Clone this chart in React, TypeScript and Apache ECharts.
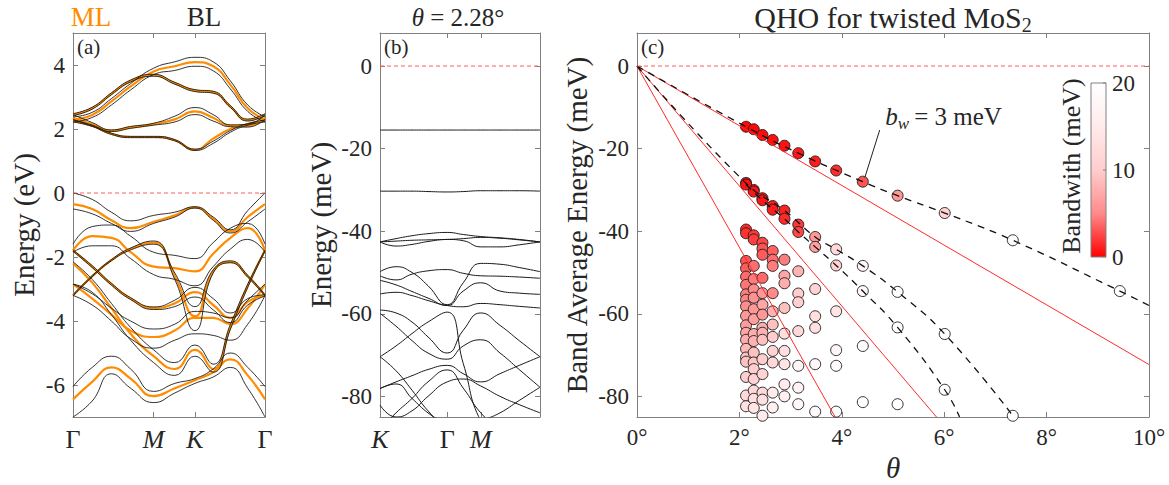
import React, { useEffect, useRef } from 'react';
import * as echarts from 'echarts';

const FONT = '"Liberation Serif", "Times New Roman", serif';
const TXT = '#262626';
const FRAME = '#808080';
const ORANGE = '#ff8c00';
const BLACK = '#1a1a1a';
const RED = '#ff2b2b';

// ---------- panel (a): ML / BL bands along Γ-M-K-Γ ----------
const tA = [0, 0.1, 0.2, 0.3, 0.42, 0.53, 0.635, 0.73, 0.82, 0.91, 1];
const kTicksA = [0, 0.42, 0.635, 1];
const kLabelsA = ['Γ', 'M', 'K', 'Γ'];
const yTicksA = [-6, -4, -2, 0, 2, 4];

const mlC1 = [2.25, 2.1, 1.85, 1.75, 1.75, 1.65, 1.35, 1.7, 2.0, 2.15, 2.25];
const mlC2 = [2.35, 2.15, 1.95, 2.05, 2.15, 2.3, 2.55, 2.35, 2.1, 2.1, 2.35];
const mlC3 = [2.45, 2.65, 3.1, 3.5, 3.68, 3.43, 3.2, 3.15, 2.7, 2.28, 2.45];
const mlC4 = [2.3, 2.44, 2.86, 3.33, 3.8, 3.96, 4.09, 3.96, 3.38, 2.65, 2.3];
const mlV1 = [-0.35, -0.5, -0.85, -1.1, -0.9, -0.7, -0.45, -0.8, -1.2, -0.75, -0.35];
const mlV2 = [-1.8, -1.35, -1.4, -1.85, -2.3, -2.35, -2.45, -1.9, -1.4, -1.1, -1.8];
const mlV3 = [-3.2, -2.6, -2.1, -1.75, -1.55, -2.6, -3.85, -2.45, -2.15, -2.6, -3.2];
const mlV4 = [-1.8, -2.3, -2.85, -3.3, -3.6, -3.45, -3.1, -3.5, -3.9, -3.4, -3.2];
const mlV5 = [-2.85, -3.3, -3.8, -4.3, -4.5, -4.3, -3.9, -3.9, -4.1, -3.6, -2.85];
const mlV6 = [-2.2, -2.8, -3.6, -4.4, -5.1, -5.5, -4.9, -5.5, -4.2, -2.9, -1.8];
const mlV7 = [-6.45, -5.9, -5.45, -5.8, -6.35, -6.1, -5.85, -5.6, -5.2, -5.7, -6.45];

const blC1a = [2.28, 2.12, 1.87, 1.77, 1.77, 1.67, 1.37, 1.62, 1.95, 2.17, 2.28];
const blC1b = [2.22, 2.08, 1.83, 1.73, 1.73, 1.63, 1.33, 1.55, 1.9, 2.12, 2.22];
const blC2a = [2.45, 2.2, 1.97, 2.08, 2.18, 2.4, 2.67, 2.45, 2.13, 2.15, 2.45];
const blC2b = [2.3, 2.1, 1.92, 2.02, 2.12, 2.22, 2.45, 2.25, 2.07, 2.06, 2.3];
const blC3a = [2.48, 2.68, 3.13, 3.53, 3.71, 3.46, 3.23, 3.18, 2.73, 2.31, 2.48];
const blC3b = [2.42, 2.62, 3.07, 3.47, 3.65, 3.4, 3.17, 3.12, 2.67, 2.25, 2.42];
const blC4a = [2.38, 2.52, 2.95, 3.42, 3.9, 4.1, 4.24, 4.1, 3.5, 2.75, 2.38];
const blC4b = [2.22, 2.36, 2.75, 3.22, 3.7, 3.83, 3.96, 3.82, 3.25, 2.55, 2.22];
const blV1a = [0, -0.2, -0.6, -0.87, -0.7, -0.6, -0.43, -0.75, -1.15, -0.55, 0];
const blV1b = [-0.5, -0.65, -0.95, -1.2, -0.95, -0.75, -0.47, -0.85, -1.25, -0.9, -0.5];
const blV2a = [-1.6, -1.05, -1.0, -1.35, -1.85, -1.95, -2.05, -1.55, -1.1, -0.95, -1.6];
const blV2b = [-1.85, -1.65, -1.65, -2.05, -2.55, -2.7, -2.9, -2.3, -1.75, -1.45, -1.85];
const blV3a = [-3.18, -2.58, -2.08, -1.72, -1.5, -2.5, -3.55, -2.4, -2.12, -2.57, -3.18];
const blV3b = [-3.22, -2.62, -2.12, -1.78, -1.6, -2.7, -4.3, -2.5, -2.18, -2.63, -3.22];
const blV4a = [-1.78, -2.27, -2.82, -3.27, -3.56, -3.35, -2.95, -3.3, -3.75, -3.3, -3.18];
const blV4b = [-1.82, -2.33, -2.88, -3.33, -3.64, -3.55, -3.25, -3.65, -4.05, -3.5, -3.22];
const blV5a = [-2.85, -3.15, -3.6, -4.0, -4.25, -4.1, -3.7, -3.75, -3.9, -3.35, -2.85];
const blV5b = [-3.2, -3.5, -4.0, -4.55, -4.85, -4.6, -4.4, -4.45, -4.6, -4.1, -3.2];
const blV6a = [-2.15, -2.7, -3.45, -4.2, -4.9, -5.3, -4.75, -5.35, -4.1, -2.85, -1.78];
const blV6b = [-2.85, -3.1, -3.8, -4.6, -5.3, -5.7, -5.1, -5.6, -4.25, -2.95, -1.82];
const blV7a = [-6.05, -5.45, -5.1, -5.5, -6.2, -5.95, -5.8, -5.5, -5.0, -5.45, -6.05];
const blV7b = [-7.0, -6.5, -5.65, -6.1, -6.55, -6.25, -5.95, -5.75, -5.45, -6.1, -7.0];

const mlBands = [mlC1, mlC2, mlC3, mlC4, mlV1, mlV2, mlV3, mlV4, mlV5, mlV6, mlV7];
const blBands = [blC1a, blC1b, blC2a, blC2b, blC3a, blC3b, blC4a, blC4b, blV1a, blV1b, blV2a, blV2b,
  blV3a, blV3b, blV4a, blV4b, blV5a, blV5b, blV6a, blV6b, blV7a, blV7b];

// ---------- panel (b): moiré bands, θ = 2.28° ----------
const tB = [0, 0.1, 0.2, 0.3, 0.42, 0.52, 0.63, 0.75, 0.87, 1];
const kTicksB = [0, 0.42, 0.63];
const kLabelsB = ['K', 'Γ', 'M'];
const yTicksBC = [-80, -60, -40, -20, 0];

const b01 = [-15.5, -15.5, -15.5, -15.5, -15.5, -15.5, -15.5, -15.5, -15.5, -15.5];
const b02 = [-30.3, -30.3, -30.3, -30.4, -30.5, -30.4, -30.2, -30.2, -30.2, -30.3];
const b03 = [-42.6, -41.8, -41.1, -40.6, -40.3, -40.8, -41.3, -41.6, -42.0, -42.6];
const b04 = [-42.6, -43.6, -43.2, -42.5, -42.0, -42.3, -43.8, -43.8, -43.3, -42.6];
const b05 = [-42.6, -42.4, -42.2, -42.1, -42.0, -41.8, -41.5, -41.7, -42.1, -42.6];
const b06 = [-49.8, -48.6, -50.0, -53.2, -57.8, -52.5, -47.8, -48.0, -48.8, -49.8];
const b07 = [-50.8, -51.8, -50.4, -49.6, -49.3, -50.2, -50.8, -50.9, -51.1, -51.4];
const b08 = [-51.9, -53.0, -54.6, -56.2, -58.0, -54.5, -52.5, -54.5, -55.0, -55.3];
const b09 = [-55.2, -54.8, -55.6, -56.8, -58.0, -58.3, -57.5, -57.8, -58.2, -58.6];
const b10 = [-59.1, -59.8, -62.0, -65.6, -69.5, -64.0, -59.8, -62.8, -66.5, -70.4];
const b11 = [-70.4, -67.8, -64.8, -62.0, -59.6, -72.0, -86.0, -90.0, -90.0, -90.0];
const b12 = [-59.9, -63.0, -66.5, -69.5, -71.0, -67.8, -66.3, -69.5, -73.5, -77.8];
const b13 = [-88.0, -84.0, -80.5, -76.5, -73.6, -78.0, -84.0, -88.0, -90.0, -90.0];
const b14 = [-78.1, -76.5, -75.0, -73.5, -72.5, -74.5, -76.5, -74.5, -72.5, -70.4];
const b15 = [-70.4, -73.8, -78.5, -83.5, -88.0, -90.0, -90.0, -90.0, -90.0, -90.0];
const b16 = [-78.1, -77.0, -80.5, -84.0, -87.0, -90.0, -90.0, -90.0, -90.0, -90.0];
const b17 = [-82.1, -85.0, -83.5, -80.0, -76.5, -75.8, -77.5, -80.0, -82.0, -84.0];
const b18 = [-90.0, -90.0, -90.0, -90.0, -90.0, -88.0, -86.0, -84.0, -81.0, -77.8];
const bBands = [b01, b02, b03, b04, b05, b06, b07, b08, b09, b10, b11, b12, b13, b14, b15, b16, b17, b18];

// ---------- panel (c): QHO for twisted MoS2 ----------
const xTicksC = [0, 2, 4, 6, 8, 10];
const thetaCols = [2.13, 2.28, 2.45, 2.65, 2.88, 3.15, 3.48, 3.89, 4.41, 5.09, 6.01, 7.34, 9.43];
const lvl0E = [-14.7, -15.3, -16.7, -17.9, -19.3, -21.1, -23.1, -25.3, -28.0, -31.4, -35.6, -42.2, -54.5];
const lvl0W = [0.3, 0.3, 0.4, 0.5, 0.6, 0.8, 1.0, 1.6, 3.0, 6.0, 11, 19, 24];
const lvl1aE = [-28.3, -30.0, -32.0, -33.9, -35.0, -38.4, -41.4, -44.4, -48.4, -54.7, -64.9, -84.7];
const lvl1aW = [0.5, 0.6, 0.7, 0.9, 1.2, 2.0, 6.0, 12, 17, 20, 22, 24];
const lvl1bE = [-28.7, -30.4, -32.5, -34.8, -37.0, -40.2, -43.8, -48.3, -54.5, -63.3, -78.4];
const lvl1bW = [0.6, 0.7, 0.8, 1.0, 1.5, 2.5, 6.5, 11, 18, 20, 22];

const c213E = [-39.6, -40.5, -47.2, -49.0, -51.0, -53.0, -55.3, -56.6, -58.2, -60.5, -62.8, -64.6, -66.3, -68.5, -70.6, -71.6, -75.3, -79.8, -82.4];
const c213W = [1.5, 1.8, 3.0, 3.3, 3.8, 4.2, 4.5, 4.8, 5.2, 6.0, 6.3, 7.0, 7.5, 8.5, 9.0, 9.2, 10, 12, 13];
const c228E = [-41.0, -42.0, -48.4, -51.6, -54.1, -56.1, -58.9, -61.3, -64.9, -66.6, -69.4, -71.8, -73.4, -75.8, -78.6, -80.6, -82.8];
const c228W = [2.0, 2.2, 4.0, 4.5, 5.0, 5.5, 6.0, 6.5, 7.5, 8.0, 9.0, 9.5, 10, 11, 12, 13, 14];
const c245E = [-42.8, -44.2, -45.7, -51.3, -55.0, -57.8, -60.2, -63.4, -64.6, -66.3, -71.0, -74.6, -79.1, -80.8, -84.7];
const c245W = [2.5, 3.0, 3.3, 3.8, 6.0, 7.0, 6.0, 7.5, 8.0, 9.0, 10, 11, 12, 13, 15];
const c265E = [-44.8, -46.9, -48.4, -55.0, -59.4, -62.6, -65.6, -69.0, -71.8, -79.1, -82.7];
const c265W = [3.5, 4.0, 4.5, 5.0, 8.0, 9.0, 10, 11, 12, 15, 16];
const c288E = [-46.9, -50.8, -52.6, -58.6, -64.8, -69.0, -72.2, -77.1, -80.0];
const c288W = [4.5, 7.0, 7.5, 9.0, 13, 13, 14, 15, 16];
const c315E = [-49.7, -55.1, -57.2, -64.2, -72.6, -77.9, -81.9];
const c315W = [8.0, 10, 10.5, 12, 18, 17, 18];
const c348E = [-54.0, -60.6, -63.4, -72.2, -83.7];
const c348W = [11, 13, 13, 18, 19];
const c389E = [-59.4, -68.8, -72.6, -83.7];
const c389W = [14, 18, 19, 20];
const c441E = [-67.8, -81.4];
const c441W = [19, 20];
const c509E = [-81.9];
const c509W = [20];
const highCols = [
  [2.13, c213E, c213W], [2.28, c228E, c228W], [2.45, c245E, c245W], [2.65, c265E, c265W],
  [2.88, c288E, c288W], [3.15, c315E, c315W], [3.48, c348E, c348W], [3.89, c389E, c389W],
  [4.41, c441E, c441W], [5.09, c509E, c509W],
] as [number, number[], number[]][];

const d1T = [0, 2.13, 3.15, 4.41, 5.09, 6.01, 7.34, 9.43, 10];
const d1E = [0, -14.7, -21.1, -28.0, -31.4, -35.6, -42.2, -54.5, -58.0];
const d2T = [0, 2.13, 2.88, 3.48, 3.89, 4.41, 5.09, 6.01, 7.34];
const d2E = [0, -28.4, -35.0, -41.4, -44.4, -48.4, -54.7, -64.9, -84.7];
const d3T = [2.13, 2.45, 2.88, 3.15, 3.48, 3.89, 4.41, 5.09, 6.01, 6.3];
const d3E = [-28.7, -32.5, -37.0, -40.2, -43.8, -48.3, -54.5, -63.3, -78.4, -85.0];
const redEndT = [10, 5.85, 3.87];
const redEndE = [-72.3, -85, -85];

const cmapColors = ['#ff0000', '#ff8a8a', '#ffcdcd', '#ffebeb', '#ffffff'];
const cbTicks = [0, 10, 20];

// ---------- helpers ----------
const zip = (xs: number[], ys: number[]) => xs.map((x, i) => [x, ys[i]]);

function line(xs: number[], ys: number[], gi: number, color: string, width: number, extra: any = {}) {
  return {
    type: 'line', xAxisIndex: gi * 2, yAxisIndex: gi * 2, data: zip(xs, ys),
    showSymbol: false, symbol: 'none', smooth: true, silent: true, animation: false,
    lineStyle: { color, width }, ...extra,
  };
}

const TICK_FS = 23;
const tickStyle = { show: true, inside: true, length: 5, lineStyle: { color: FRAME, width: 1 } };
const axLine = { show: true, onZero: false, lineStyle: { color: FRAME, width: 1 } };
const richI = { i: { fontStyle: 'italic', fontFamily: FONT, fontSize: 26, color: TXT } };

function nearestLabel(v: number, ticks: number[], labels: string[]) {
  let best = 0;
  ticks.forEach((t, i) => { if (Math.abs(t - v) < Math.abs(ticks[best] - v)) best = i; });
  const l = labels[best];
  return l === 'Γ' ? l : `{i|${l}}`;
}

function xPair(gi: number, min: number, max: number, tickVals: number[], labelVals: number[], fmt: any, fs: number) {
  return [
    {
      type: 'value', gridIndex: gi, min, max, position: 'bottom', axisLine: axLine, splitLine: { show: false },
      axisTick: { ...tickStyle, customValues: tickVals },
      axisLabel: { customValues: labelVals, formatter: fmt, margin: 9, color: TXT, fontFamily: FONT, fontSize: fs, rich: richI },
    },
    {
      type: 'value', gridIndex: gi, min, max, position: 'top', axisLine: axLine, splitLine: { show: false },
      axisTick: { ...tickStyle, customValues: tickVals }, axisLabel: { show: false },
    },
  ];
}

function yPair(gi: number, min: number, max: number, ticks: number[]) {
  return [
    {
      type: 'value', gridIndex: gi, min, max, position: 'left', axisLine: axLine, splitLine: { show: false },
      axisTick: { ...tickStyle, customValues: ticks },
      axisLabel: { customValues: ticks, margin: 8, color: TXT, fontFamily: FONT, fontSize: TICK_FS },
    },
    {
      type: 'value', gridIndex: gi, min, max, position: 'right', axisLine: axLine, splitLine: { show: false },
      axisTick: { ...tickStyle, customValues: ticks }, axisLabel: { show: false },
    },
  ];
}

function buildOption() {
  const series: any[] = [];
  const zeroStyle = { color: '#ff5a5a', width: 1, type: [4, 3] };
  // (a)
  mlBands.forEach((b) => series.push(line(tA, b, 0, ORANGE, 2.2)));
  blBands.forEach((b) => series.push(line(tA, b, 0, BLACK, 0.9)));
  series.push(line([0, 1], [0, 0], 0, '#ff5a5a', 1, { smooth: false, lineStyle: zeroStyle }));
  // (b)
  bBands.forEach((b) => series.push(line(tB, b, 1, BLACK, 1)));
  series.push(line([0, 1], [0, 0], 1, '#ff5a5a', 1, { smooth: false, lineStyle: zeroStyle }));
  // (c) scatter
  const pts: number[][] = [];
  thetaCols.forEach((t, i) => pts.push([t, lvl0E[i], lvl0W[i]]));
  lvl1aE.forEach((e, i) => pts.push([thetaCols[i], e, lvl1aW[i]]));
  lvl1bE.forEach((e, i) => pts.push([thetaCols[i], e, lvl1bW[i]]));
  highCols.forEach(([t, es, ws]) => es.forEach((e, i) => pts.push([t, e, ws[i]])));
  const scatterIndex = series.length;
  series.push({
    type: 'scatter', xAxisIndex: 4, yAxisIndex: 4, data: pts, symbolSize: 11, silent: true,
    itemStyle: { borderColor: '#1e1e1e', borderWidth: 0.9, opacity: 1 },
  });
  redEndT.forEach((t, i) => series.push(line([0, t], [0, redEndE[i]], 2, RED, 1, { smooth: false })));
  const dash = { color: '#111', width: 1.3, type: [7, 6] };
  series.push(line(d1T, d1E, 2, '#111', 1.3, { lineStyle: dash }));
  series.push(line(d2T, d2E, 2, '#111', 1.3, { lineStyle: dash }));
  series.push(line(d3T, d3E, 2, '#111', 1.3, { lineStyle: dash }));
  series.push(line([0, 10], [0, 0], 2, '#ff5a5a', 1, { smooth: false, lineStyle: zeroStyle }));

  return {
    animation: false,
    backgroundColor: '#ffffff',
    grid: [
      { left: 73, top: 33, width: 192, height: 384 },
      { left: 380, top: 33, width: 160, height: 384 },
      { left: 637, top: 33, width: 512, height: 384 },
    ],
    xAxis: [
      ...xPair(0, 0, 1, [0.42, 0.635], kTicksA, (v: number) => nearestLabel(v, kTicksA, kLabelsA), 26),
      ...xPair(1, 0, 1, [0.42, 0.63], kTicksB, (v: number) => nearestLabel(v, kTicksB, kLabelsB), 26),
      ...xPair(2, 0, 10, [2, 4, 6, 8], xTicksC, (v: number) => `${v}°`, TICK_FS),
    ],
    yAxis: [
      ...yPair(0, -7, 5, yTicksA),
      ...yPair(1, -85, 8, yTicksBC),
      ...yPair(2, -85, 8, yTicksBC),
    ],
    visualMap: {
      type: 'continuous', show: false, min: 0, max: 20, dimension: 2, seriesIndex: scatterIndex,
      inRange: { color: cmapColors },
    },
    series,
  };
}

function measure(txt: string, font: string) {
  const c = document.createElement('canvas').getContext('2d')!;
  c.font = font;
  return c.measureText(txt).width;
}

function buildGraphic(chart: any) {
  const t = (x: number, y: number, text: string, fs: number, extra: any = {}) => ({
    type: 'text', x, y, z: 100, silent: true,
    style: { text, fontFamily: FONT, fontSize: fs, fill: TXT, align: 'center', verticalAlign: 'middle', ...extra },
  });
  const g: any[] = [];
  g.push(t(91, 17, 'ML', 27, { fill: ORANGE }));
  g.push(t(204, 17, 'BL', 27));
  g.push(t(77, 36, '(a)', 21, { align: 'left', verticalAlign: 'top' }));
  g.push(t(384, 36, '(b)', 21, { align: 'left', verticalAlign: 'top' }));
  g.push(t(641, 36, '(c)', 21, { align: 'left', verticalAlign: 'top' }));
  g.push({ ...t(24, 225, 'Energy (eV)', 29), rotation: Math.PI / 2 });
  g.push({ ...t(321, 225, 'Energy (meV)', 29), rotation: Math.PI / 2 });
  g.push({ ...t(577, 225, 'Band Average Energy (meV)', 29), rotation: Math.PI / 2 });
  g.push(t(458, 17, '{i|θ} = 2.28°', 25, { rich: { i: { fontStyle: 'italic', fontFamily: FONT, fontSize: 25, fill: TXT } } }));
  g.push(t(893, 468, 'θ', 29, { fontStyle: 'italic' }));

  // title with subscript
  const main = 'QHO for twisted MoS';
  const w1 = measure(main, `30px ${FONT}`);
  const w2 = measure('2', `20px ${FONT}`);
  const sx = 893 - (w1 + w2) / 2;
  g.push(t(sx, 17, main, 30, { align: 'left' }));
  g.push(t(sx + w1, 25, '2', 20, { align: 'left' }));

  // annotation b_w = 3 meV
  const p = (v: number[]) => chart.convertToPixel({ gridIndex: 2 }, v);
  const a0 = p([4.74, -15.5]);
  const a1 = p([4.45, -27.0]);
  g.push({ type: 'line', z: 100, silent: true, shape: { x1: a0[0], y1: a0[1], x2: a1[0], y2: a1[1] }, style: { stroke: '#222', lineWidth: 1 } });
  const tp = p([4.85, -12.3]);
  const wb = measure('b', `italic 25px ${FONT}`);
  const ww = measure('w', `italic 17px ${FONT}`);
  g.push(t(tp[0], tp[1], 'b', 25, { align: 'left', fontStyle: 'italic' }));
  g.push(t(tp[0] + wb, tp[1] + 7, 'w', 17, { align: 'left', fontStyle: 'italic' }));
  g.push(t(tp[0] + wb + ww + 5, tp[1], '= 3 meV', 25, { align: 'left' }));

  // colorbar
  const cbX = 1091, cbY = 83, cbW = 15, cbH = 174;
  const stops = cmapColors.map((c, i) => ({ offset: i / (cmapColors.length - 1), color: c }));
  g.push({
    type: 'rect', z: 100, silent: true, shape: { x: cbX, y: cbY, width: cbW, height: cbH },
    style: { fill: new echarts.graphic.LinearGradient(0, 1, 0, 0, stops), stroke: FRAME, lineWidth: 1 },
  });
  cbTicks.forEach((v) => {
    const y = cbY + cbH - (v / 20) * cbH;
    g.push({ type: 'line', z: 101, silent: true, shape: { x1: cbX + cbW - 3, y1: y, x2: cbX + cbW, y2: y }, style: { stroke: FRAME, lineWidth: 1 } });
    g.push(t(cbX + cbW + 6, y, String(v), TICK_FS, { align: 'left' }));
  });
  g.push({ ...t(1071, cbY + cbH / 2 - 4, 'Bandwith (meV)', 26), rotation: Math.PI / 2 });
  return g;
}

export default function App() {
  const ref = useRef<HTMLDivElement>(null);
  useEffect(() => {
    const chart = echarts.init(ref.current!, null, { renderer: 'svg' });
    chart.setOption(buildOption() as any);
    chart.setOption({ graphic: buildGraphic(chart) } as any);
    return () => chart.dispose();
  }, []);
  return <div ref={ref} style={{ position: 'absolute', left: 0, top: 0, width: 1169, height: 485, background: '#fff' }} />;
}
